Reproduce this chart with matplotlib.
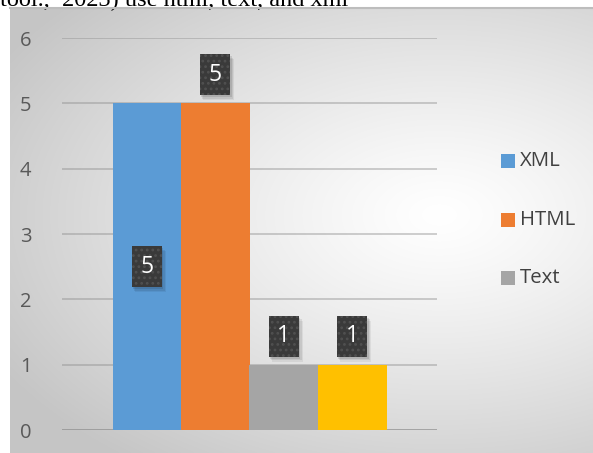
import numpy as np
import matplotlib
matplotlib.use("Agg")
import matplotlib.pyplot as plt
from matplotlib.patches import Rectangle
from matplotlib.transforms import ScaledTranslation

# ---- data ----
series_names = ["XML", "HTML", "Text", ""]
series_values = [5, 5, 1, 1]
series_colors = ["#5b9bd5", "#ed7d31", "#a5a5a5", "#ffc000"]
label_modes = ["center", "outside", "outside", "outside"]
yticks = [0, 1, 2, 3, 4, 5, 6]
title_text = "tool.,  2023) use html, text, and xml"

W, H = 593, 453
fig = plt.figure(figsize=(W / 100, H / 100), dpi=100)
fig.patch.set_facecolor("white")

# ---- background radial gradient (chart area) ----
bx0, by_top = 10, 8
bg = fig.add_axes([bx0 / W, 0, 1 - bx0 / W, (H - by_top) / H], zorder=0)
xs = np.linspace(bx0, W, 300)
ys = np.linspace(by_top, H, 240)
X, Y = np.meshgrid(xs, ys)
cx, cy, axr, ayr = 440, 215, 440, 270
d = np.sqrt(((X - cx) / axr) ** 2 + ((Y - cy) / ayr) ** 2)
d = np.clip(d, 0, 1.15)
val = 1 - 0.19 * d ** 1.2
img = np.dstack([val, val, val])
bg.imshow(img, aspect="auto", extent=[0, 1, 0, 1], origin="upper", interpolation="bilinear")
bg.set_xlim(0, 1); bg.set_ylim(0, 1)
bg.axis("off")
fig.add_artist(plt.Line2D([bx0 / W, 1], [(H - by_top) / H] * 2, color="#bdbdbd", lw=1.5,
                          transform=fig.transFigure))

# ---- title text (cut off at top, as in the source image) ----
fig.text(0 / W, 1 - 6 / H, title_text, fontsize=17.5, family="Liberation Serif",
         color="black", va="baseline", ha="left", zorder=0)

# ---- main axes ----
left, right = 62, 437
y0px, y6px = 430, 38
ax = fig.add_axes([left / W, (H - y0px) / H, (right - left) / W, (y0px - y6px) / H], zorder=2)
ax.patch.set_alpha(0)
ax.set_xlim(-0.5, 0.5)
ax.set_ylim(0, 6)
for s in ax.spines.values():
    s.set_visible(False)
ax.set_xticks([])
ax.set_yticks(yticks)
ax.set_yticklabels([str(t) for t in yticks], fontsize=14.5, color="#595959", family="Open Sans")
ax.tick_params(axis="y", length=0, pad=22)
for t in yticks:
    ax.axhline(t, color="#8c8c8c", alpha=0.45 if t > 0 else 0.75, lw=1.3, zorder=1)

bw = 68.5 / 375
n = len(series_values)
for i, (v, c) in enumerate(zip(series_values, series_colors)):
    x = (i - (n - 1) / 2) * bw
    ax.bar(x, v, width=bw, color=c, zorder=3, linewidth=0)

# ---- data labels ----
plt.rcParams["hatch.linewidth"] = 1.2
bwid, bht = 0.30, 0.41  # inches
for i, (v, mode) in enumerate(zip(series_values, label_modes)):
    x = (i - (n - 1) / 2) * bw
    if mode == "center":
        ytxt = v / 2
        off = 0.0
    else:
        ytxt = v
        off = 0.285
    tr = fig.dpi_scale_trans + ScaledTranslation(x, ytxt, ax.transData)
    for k, a in [(0.05, 0.06), (0.035, 0.08), (0.02, 0.1)]:
        ax.add_patch(Rectangle((-bwid / 2 + k * 0.6, off - bht / 2 - k), bwid + k * 0.2, bht,
                               transform=tr, facecolor="black", alpha=a, lw=0, zorder=4))
    box = Rectangle((-bwid / 2, off - bht / 2), bwid, bht, transform=tr,
                    facecolor="#3a3a3a", edgecolor="#505050", hatch="...", lw=0, zorder=5)
    ax.add_patch(box)
    ax.text(0, off, str(v), transform=tr, ha="center", va="center", fontsize=16.5,
            color="white", family="Open Sans", zorder=6)

# ---- legend (manual) ----
leg_y = [161, 220, 278]
for name, c, yy in zip(series_names[:3], series_colors[:3], leg_y):
    fig.add_artist(Rectangle((501 / W, (H - yy - 7) / H), 14 / W, 14 / H, transform=fig.transFigure,
                             facecolor=c, lw=0, zorder=3))
    fig.text(520 / W, (H - yy) / H, name, fontsize=14.7, color="#404040", family="Open Sans",
             va="center", ha="left", zorder=3)

fig.savefig("out.png", dpi=100)
